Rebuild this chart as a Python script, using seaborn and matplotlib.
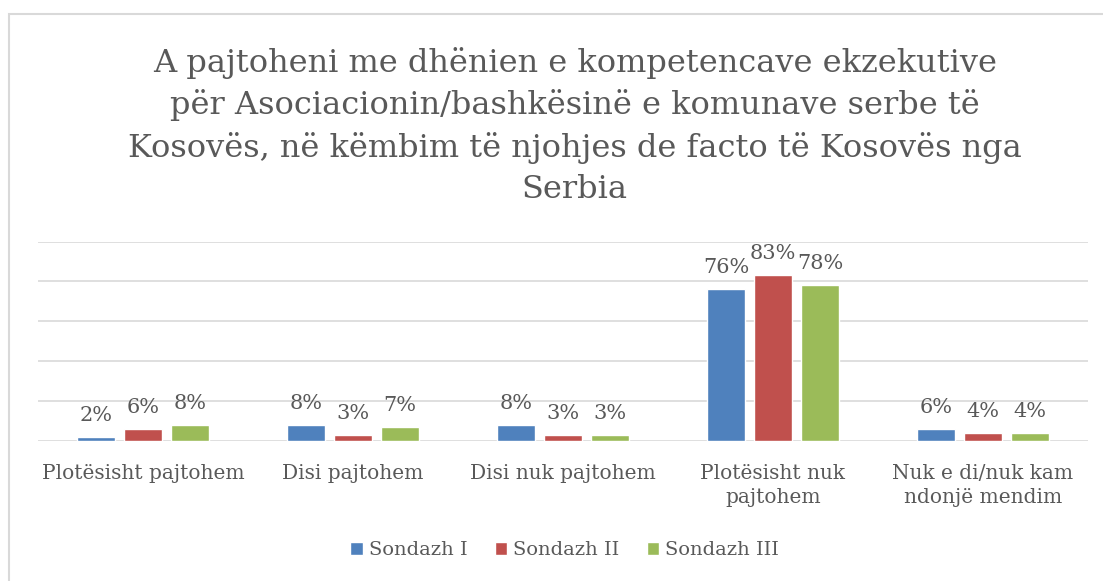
import pandas as pd
import numpy as np
import matplotlib.pyplot as plt
from matplotlib.patches import Rectangle
import seaborn as sns

### te dhenat
kategorite = ["Plotësisht pajtohem", "Disi pajtohem", "Disi nuk pajtohem",
              "Plotësisht nuk\npajtohem", "Nuk e di/nuk kam\nndonjë mendim"]
sondazhet = ["Sondazh I", "Sondazh II", "Sondazh III"]
sondazh_1 = [2, 8, 8, 76, 6]
sondazh_2 = [6, 3, 3, 83, 4]
sondazh_3 = [8, 7, 3, 78, 4]
ngjyrat = ["#4F81BD", "#C0504D", "#9BBB59"]

titulli = ("A pajtoheni me dhënien e kompetencave ekzekutive\n"
           "për Asociacionin/bashkësinë e komunave serbe të\n"
           "Kosovës, në këmbim të njohjes de facto të Kosovës nga\n"
           "Serbia")

df = pd.DataFrame({
    "kategoria": kategorite * 3,
    "sondazhi": np.repeat(sondazhet, len(kategorite)),
    "vlera": sondazh_1 + sondazh_2 + sondazh_3,
})

sns.set_style("white")
plt.rcParams["font.family"] = ["DejaVu Serif"]
gri = "#595959"

fig = plt.figure(figsize=(11.03, 5.81), dpi=100)
ax = fig.add_axes([38 / 1103, 1 - 441 / 581, 1050 / 1103, 199.5 / 581])

sns.barplot(data=df, x="kategoria", y="vlera", hue="sondazhi", palette=ngjyrat,
            width=0.67, gap=0.2, ax=ax, saturation=1, legend=True)

for c in ax.containers:
    ax.bar_label(c, labels=[f"{v:.0f}%" for v in c.datavalues], padding=9,
                 fontsize=15, color=gri)

ax.set_ylim(0, 100)
ax.set_xlim(-0.5, 4.5)
ax.set_yticks([0, 20, 40, 60, 80, 100])
ax.yaxis.grid(True, color="#d9d9d9", linewidth=1.2)
ax.set_axisbelow(True)
ax.tick_params(axis="y", left=False, labelleft=False)
ax.tick_params(axis="x", bottom=False, labelsize=14.5, labelcolor=gri, pad=13)
ax.set_xticks(range(len(kategorite)))
ax.set_xticklabels(kategorite, linespacing=1.35)
ax.set_xlabel("")
ax.set_ylabel("")
for s in ax.spines.values():
    s.set_visible(False)

ax.legend(loc="center", bbox_to_anchor=(0.512, 1 - 550 / 581),
          bbox_transform=fig.transFigure, ncol=3, frameon=False, fontsize=14,
          handlelength=0.65, handleheight=0.65, handletextpad=0.3,
          columnspacing=1.4, labelcolor=gri)

fig.text(0.521, 1 - 126 / 581, titulli, ha="center", va="center", fontsize=23,
         color=gri, linespacing=1.42)

### korniza e grafikut
fig.patches.append(Rectangle((8.5 / 1103, -0.2), 1.2, 1.2 - 13.5 / 581,
                             transform=fig.transFigure, fill=False,
                             edgecolor="#d9d9d9", linewidth=1.5))

fig.savefig("out.png", dpi=100)
